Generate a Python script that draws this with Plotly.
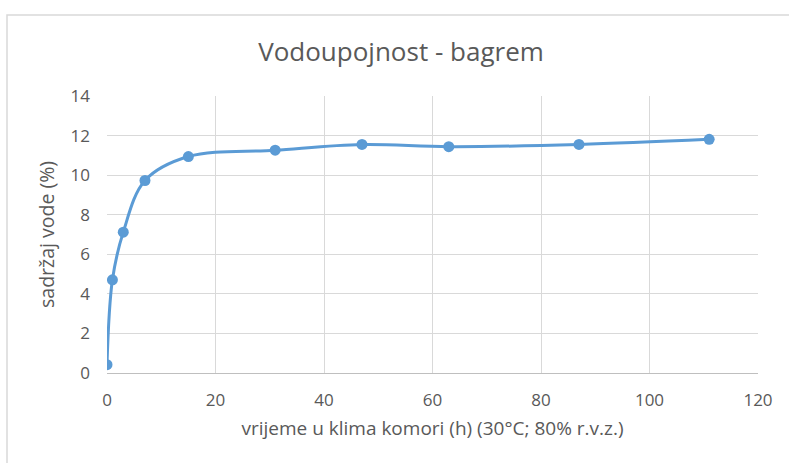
import plotly.graph_objects as go

hours = [0, 1, 3, 7, 15, 31, 47, 63, 87, 111]
water = [0.42, 4.71, 7.12, 9.73, 10.94, 11.26, 11.55, 11.44, 11.55, 11.81]

title_text = "Vodoupojnost - bagrem"
x_title = "vrijeme u klima komori (h) (30°C; 80% r.v.z.)"
y_title = "sadržaj vode (%)"

blue = "#5B9BD5"
grey_txt = "#595959"
font_fam = "'Open Sans', Lato, sans-serif"

fig = go.Figure()
fig.add_trace(go.Scatter(
    x=hours, y=water, mode="lines+markers",
    line=dict(color=blue, width=3, shape="spline", smoothing=1.0),
    marker=dict(color=blue, size=11),
    showlegend=False,
))

fig.update_layout(
    width=789, height=463,
    margin=dict(l=107, r=31, t=96, b=90),
    paper_bgcolor="white", plot_bgcolor="white",
    font=dict(family=font_fam, color=grey_txt),
    title=dict(text=title_text, x=401 / 789, xref="container", xanchor="center",
               y=1 - 52 / 463, yref="container", yanchor="middle",
               font=dict(size=26, color=grey_txt, family=font_fam)),
    shapes=[dict(type="rect", xref="paper", yref="paper",
                 x0=(7 - 107) / 651, x1=1.2, y0=-0.5, y1=(373 - 15) / 277,
                 line=dict(color="#D9D9D9", width=1.5), fillcolor="rgba(0,0,0,0)",
                 layer="below")],
)

fig.update_xaxes(
    range=[0, 120], dtick=20, tick0=0, automargin=False,
    showgrid=True, gridcolor="#D9D9D9", gridwidth=1.3,
    showline=True, linecolor="#BFBFBF", linewidth=1.3,
    zeroline=False, ticks="", ticklabelstandoff=11,
    tickfont=dict(size=17, color=grey_txt),
    title=dict(text=x_title, font=dict(size=19, color=grey_txt), standoff=12),
)
fig.update_yaxes(
    range=[0, 14], dtick=2, tick0=0, automargin=False,
    showgrid=True, gridcolor="#D9D9D9", gridwidth=1.3,
    showline=False, zeroline=False, ticks="", ticklabelstandoff=16,
    tickfont=dict(size=17, color=grey_txt),
    title=dict(text=y_title, font=dict(size=19.5, color=grey_txt), standoff=10),
)

fig.write_html("out.html", config={"displayModeBar": False},
               post_script="document.body.style.margin='0';document.body.style.overflow='hidden';")
